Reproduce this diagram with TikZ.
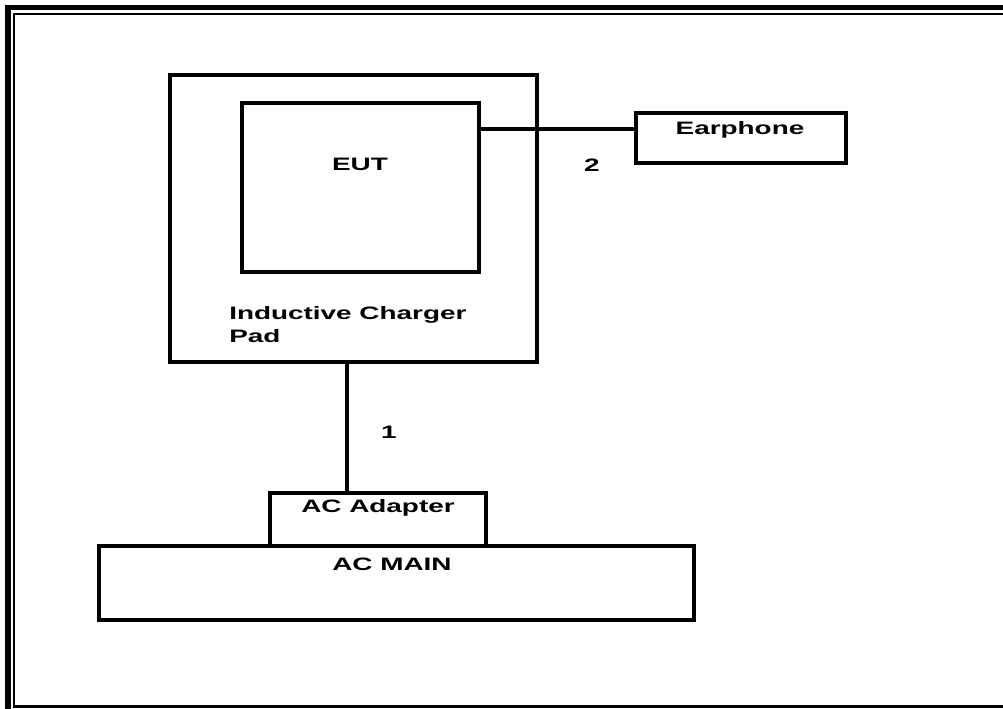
\documentclass[tikz,border=0pt]{standalone}
\usepackage{fontspec}
\newfontfamily\lblfont{Liberation Sans}[FakeStretch=1.55]
\usetikzlibrary{positioning}

\begin{document}
\begin{tikzpicture}[
        x=0.75pt,
        y=-0.75pt,
        box/.style={draw, line width=2.6pt, inner sep=0pt, outer sep=0pt},
        wire/.style={line width=2.4pt},
        lbl/.style={font=\lblfont\bfseries\fontsize{13.5}{17.3}\selectfont, inner sep=0pt}
    ]
        \useasboundingbox (0,0) rectangle (1003,709);

        % page frame
        \draw[line width=4.3pt] (1003,7.5) -- (8,7.5) -- (8,709);
        \draw[line width=2pt] (1003,14) -- (14,14) -- (14,706.7) -- (1003,706.7);

        \node[box, minimum width=275.25pt, minimum height=215.25pt] (pad) at (353.5,218.5) {};
        \node[box, minimum width=177.75pt, minimum height=126.75pt] (eut) at (360.5,187.5) {};
        \node[box, minimum width=157.5pt, minimum height=37.5pt] (ear) at (741,138) {};
        \node[box, minimum width=162pt, minimum height=39.75pt] (adp) at (378,519.5) {};
        \node[box, minimum width=446.25pt, minimum height=55.5pt] (main) at (396.5,583) {};

        \node[lbl] (eutlab) at (360,164) {EUT};
        \node[lbl, anchor=west, align=left] (padlab) at (229,324.5) {Inductive Charger\\Pad};
        \node[lbl] (earlab) at (740,130) {Earphone};
        \node[lbl] (adplab) at (378,508) {AC Adapter};
        \node[lbl] (mainlab) at (392,564) {AC MAIN};

        % cables
        \coordinate (c1) at (347,0);
        \coordinate (c2) at (0,129);
        \draw[wire] (pad.south -| c1) -- (adp.north -| c1);
        \draw[wire] (eut.east |- c2) -- (ear.west |- c2);
        \node[lbl] (n1) at (389,432) {1};
        \node[lbl] (n2) at (592,165) {2};
    \end{tikzpicture}
\end{document}
